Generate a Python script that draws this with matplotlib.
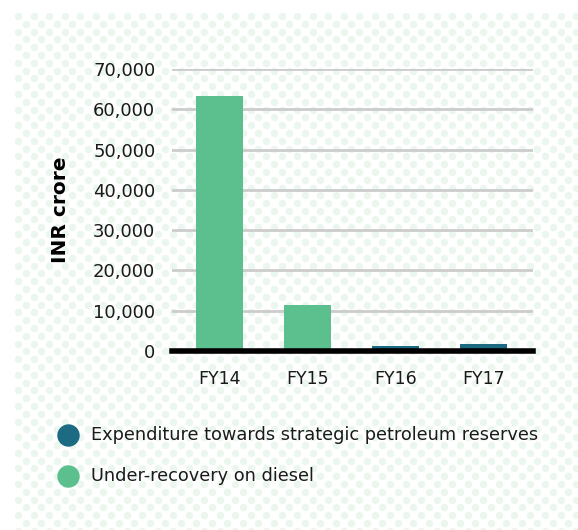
import matplotlib.pyplot as plt
import numpy as np

# data
years = ["FY14", "FY15", "FY16", "FY17"]
spr_expenditure = [0, 0, 1200, 1700]
diesel_under_recovery = [63200, 11300, 0, 0]
y_ticks = [0, 10000, 20000, 30000, 40000, 50000, 60000, 70000]

teal = "#1c6b82"
green = "#5cbf8e"

plt.rcParams["font.family"] = ["DejaVu Sans"]

W, H = 578, 530
fig = plt.figure(figsize=(W / 100, H / 100), dpi=100)

# dotted background
bg = fig.add_axes([0, 0, 1, 1])
bg.set_xlim(0, W)
bg.set_ylim(H, 0)
bg.axis("off")
dx, dy = 15.5, 7.8
xs, ys = [], []
for i, yy in enumerate(np.arange(16, H + 5, dy)):
    off = 0 if i % 2 == 0 else dx / 2
    for xx in np.arange(18 + off, W + 5, dx):
        xs.append(xx)
        ys.append(yy)
bg.scatter(xs, ys, s=28, color="#eaf6ee", linewidths=0, clip_on=True)
bg.add_patch(plt.Rectangle((0, 0), 12, H, color="white", zorder=3))
bg.add_patch(plt.Rectangle((0, 0), W, 10, color="white", zorder=3))

# main axes: x 172..533, y 69..351 px
ax = fig.add_axes([172 / W, 1 - 351 / H, (533 - 172) / W, (351 - 69) / H])
ax.patch.set_alpha(0)
x = np.arange(len(years))
ax.bar(x, diesel_under_recovery, width=0.53, color=green, zorder=3)
ax.bar(x, spr_expenditure, width=0.53, bottom=diesel_under_recovery, color=teal, zorder=3)

ax.set_xlim(-0.54, 3.56)
ax.set_ylim(0, 70000)
ax.set_yticks(y_ticks)
ax.set_yticklabels([f"{v:,}" for v in y_ticks], fontsize=13, color="#1a1a1a")
ax.set_xticks(x)
ax.set_xticklabels(years, fontsize=12.5, color="#1a1a1a")
ax.tick_params(axis="y", length=0, pad=12)
ax.tick_params(axis="x", length=0, pad=14)
ax.grid(axis="y", color="#cccccc", linewidth=2, zorder=0)
for s in ["top", "right", "left"]:
    ax.spines[s].set_visible(False)
ax.spines["bottom"].set_linewidth(4)
ax.spines["bottom"].set_color("black")
ax.spines["bottom"].set_zorder(4)

fig.text(60 / W, 1 - 210 / H, "INR crore", rotation=90, fontsize=14.5,
         fontweight="bold", ha="center", va="center", color="black")

# legend
for yy, col, lab in [(435, teal, "Expenditure towards strategic petroleum reserves"),
                     (476, green, "Under-recovery on diesel")]:
    bg.scatter([68], [yy], s=260, color=col, linewidths=0, zorder=5)
    bg.text(91, yy, lab, fontsize=12.8, va="center", ha="left", color="#1a1a1a", zorder=5)

fig.savefig("out.png", dpi=100)
